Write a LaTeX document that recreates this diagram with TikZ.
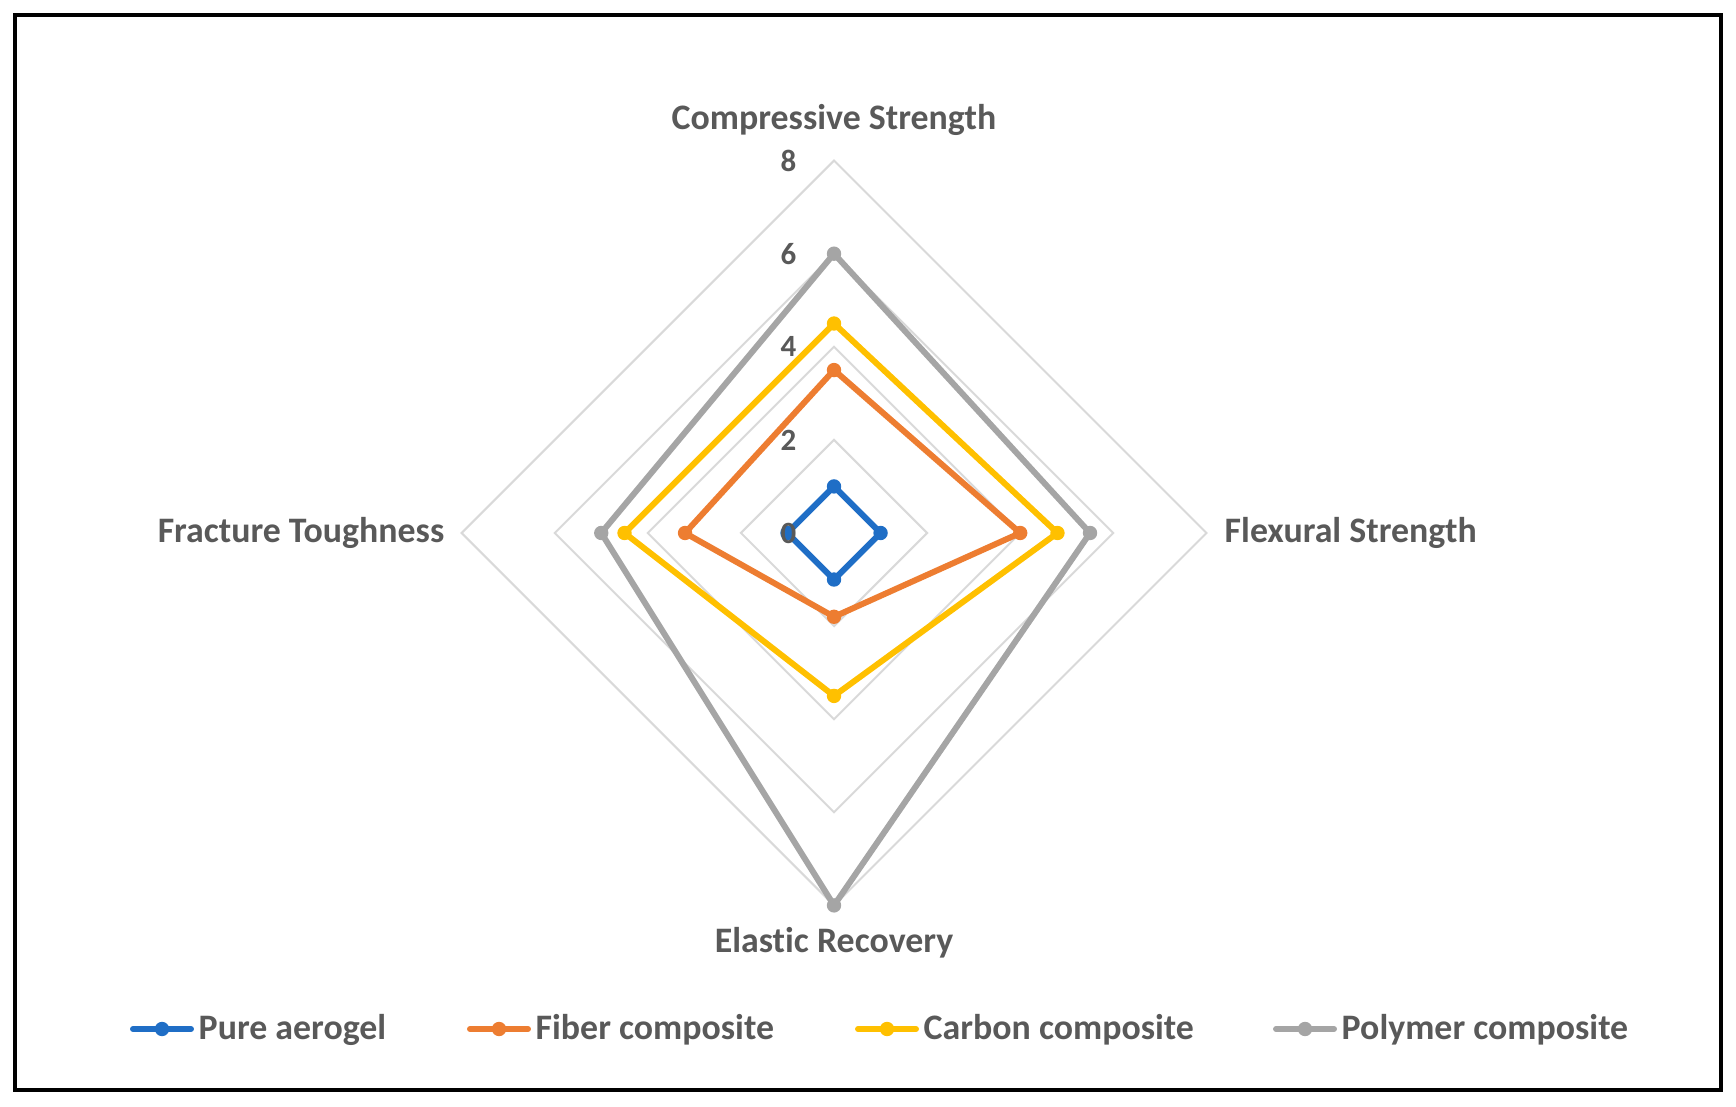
\documentclass[tikz,border=0pt]{standalone}
\usepackage{fontspec}
\setmainfont[Ligatures=NoCommon]{Carlito}
\usepackage{tikz}

\definecolor{aerogelblue}{HTML}{1F6EC6}
\definecolor{fiberorange}{HTML}{ED7D31}
\definecolor{carbonyellow}{HTML}{FFC000}
\definecolor{polymergray}{HTML}{A5A5A5}
\definecolor{gridgray}{HTML}{D9D9D9}
\definecolor{labelgray}{HTML}{595959}

\begin{document}
\begin{tikzpicture}[
  series/.style={line width=1.7pt, line join=round, line cap=round},
  axislabel/.style={text=labelgray, font=\fontsize{10.2}{12}\selectfont\bfseries, inner sep=0pt},
  ticklabel/.style={text=labelgray, font=\fontsize{8.8}{10}\selectfont\bfseries, inner sep=0pt, anchor=east},
  legendtext/.style={text=labelgray, font=\fontsize{10.2}{12}\selectfont\bfseries, inner sep=0pt, anchor=base west}
]
% size of the picture and outer frame
\useasboundingbox (0,0) rectangle (17.36,11.06);
\draw[line width=1.14pt] (0.15,0.16) rectangle (17.21,10.91);

% centre of the radar and length of one unit
\def\cx{8.34}
\def\cy{5.73}
\def\u{0.4655}

% grid diamonds at 2, 4, 6, 8
\foreach \r in {2,4,6,8}
  \draw[gridgray, line width=0.57pt] (\cx,\cy+\r*\u) -- (\cx+\r*\u,\cy) -- (\cx,\cy-\r*\u) -- (\cx-\r*\u,\cy) -- cycle;

% series: compressive / flexural / elastic / fracture
\foreach \col/\a/\b/\c/\d in {aerogelblue/1/1/1/1, fiberorange/3.5/4/1.8/3.2, carbonyellow/4.5/4.8/3.5/4.5, polymergray/6/5.5/8/5} {
  \draw[series, \col] (\cx,\cy+\a*\u) -- (\cx+\b*\u,\cy) -- (\cx,\cy-\c*\u) -- (\cx-\d*\u,\cy) -- cycle;
  \fill[\col] (\cx,\cy+\a*\u) circle (0.072) (\cx+\b*\u,\cy) circle (0.072)
    (\cx,\cy-\c*\u) circle (0.072) (\cx-\d*\u,\cy) circle (0.072);
}

% axis names
\node[axislabel, anchor=base] (compressive) at (\cx,9.76) {Compressive Strength};
\node[axislabel, anchor=base west] (flexural) at (12.24,5.63) {Flexural Strength};
\node[axislabel, anchor=base] (elastic) at (\cx,1.53) {Elastic Recovery};
\node[axislabel, anchor=base east] (fracture) at (4.45,5.63) {Fracture Toughness};

% values along the top axis
\foreach \r in {0,2,4,6,8}
  \node[ticklabel] (tick\r) at (7.97,\cy+\r*\u) {\r};

% legend
\foreach \col/\x/\name [count=\i] in {aerogelblue/1.30/Pure aerogel, fiberorange/4.67/Fiber composite, carbonyellow/8.55/Carbon composite, polymergray/12.73/Polymer composite} {
  \draw[series, \col] (\x+0.03,0.77) -- ++(0.58,0);
  \fill[\col] (\x+0.32,0.77) circle (0.072);
  \node[legendtext] (legend\i) at (\x+0.68,0.67) {\name};
}
\end{tikzpicture}
\end{document}
